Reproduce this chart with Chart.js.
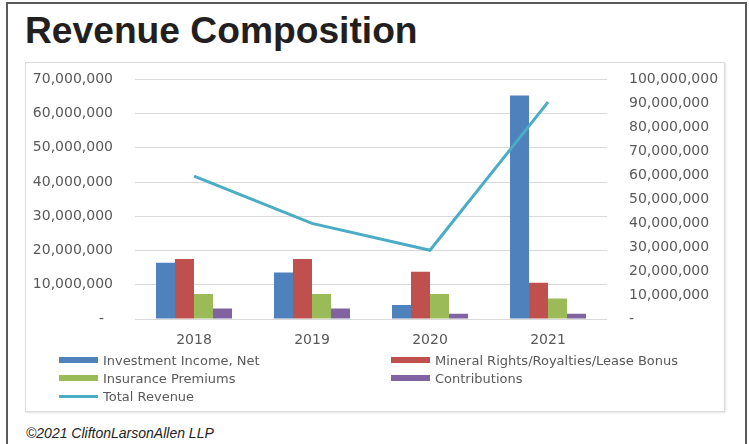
<!DOCTYPE html>
<html>
<head>
<meta charset="utf-8">
<script src="https://cdn.jsdelivr.net/npm/chart.js@4"></script>
<style>
  html, body { margin: 0; padding: 0; background: #fff; }
  body { width: 749px; height: 444px; position: relative; overflow: hidden; font-family: "Liberation Sans", Arial, sans-serif; }
  .frame { position: absolute; left: 6px; top: 2px; width: 741px; height: 470px; box-sizing: border-box; border: 2px solid #5a5a5a; }
  .title { position: absolute; left: 25px; top: 9px; font-size: 37.2px; font-weight: bold; color: #231f20; }
  .box { position: absolute; left: 25px; top: 62px; width: 700px; height: 350px; box-sizing: border-box; border: 1px solid #dcdcdc; box-shadow: 1px 1px 2px #e4e4e4; }
  #chart { position: absolute; left: 26px; top: 49px; }
  .legend { position: absolute; left: 59px; top: 351px; display: grid; grid-template-columns: 332px 300px; grid-auto-rows: 18px; }
  .legend div { display: flex; align-items: center; font-family: "DejaVu Sans", sans-serif; font-size: 13px; color: #595959; }
  .legend span.sw { display: inline-block; width: 39px; margin-right: 5px; }
  .footer { position: absolute; left: 26px; top: 425px; font-size: 14px; font-style: italic; color: #222; }
</style>
</head>
<body>
<div class="frame"></div>
<div class="title">Revenue Composition</div>
<div class="box"></div>
<canvas id="chart" width="698" height="304"></canvas>
<div class="legend" id="legend"></div>
<div class="footer">©2021 CliftonLarsonAllen LLP</div>
<script>
// values (left axis for bars, right axis for total)
const years = ['2018', '2019', '2020', '2021'];
const investmentIncome = [16400000, 13600000, 4100000, 65300000];
const mineralRights = [17500000, 17500000, 13800000, 10600000];
const insurancePremiums = [7300000, 7300000, 7300000, 6000000];
const contributions = [3100000, 3100000, 1500000, 1500000];
const totalRevenue = [59600000, 39900000, 28700000, 90500000];

const TICK_FONT = { family: 'DejaVu Sans', size: 14 };
const GREY = '#595959';

const fmt = (v) => v.toLocaleString('en-US');

function bar(label, data, color) {
  return { type: 'bar', label, data, backgroundColor: color, yAxisID: 'y', order: 1,
    barPercentage: 1, categoryPercentage: 0.644 };
}

const datasets = [
  bar('Investment Income, Net', investmentIncome, '#4F81BD'),
  bar('Mineral Rights/Royalties/Lease Bonus', mineralRights, '#C0504D'),
  bar('Insurance Premiums', insurancePremiums, '#9BBB59'),
  bar('Contributions', contributions, '#8064A2'),
  { type: 'line', label: 'Total Revenue', data: totalRevenue, yAxisID: 'y1', order: 0,
    borderColor: '#4BACC6', backgroundColor: '#4BACC6', borderWidth: 3, pointRadius: 0, tension: 0 },
];

new Chart(document.getElementById('chart'), {
  type: 'bar',
  data: { labels: years, datasets },
  options: {
    responsive: false, animation: false, devicePixelRatio: 1,
    layout: { padding: { top: 2, left: 0, right: 0, bottom: 0 } },
    plugins: { legend: { display: false }, tooltip: { enabled: false } },
    scales: {
      x: {
        grid: { display: false }, border: { display: false },
        ticks: { color: GREY, font: TICK_FONT, padding: 5 },
        afterFit: (s) => { s.height = 34; },
      },
      y: {
        position: 'left', min: 0, max: 70000000,
        grid: { color: '#d9d9d9', drawTicks: false }, border: { display: false },
        ticks: { stepSize: 10000000, color: GREY, font: TICK_FONT, padding: 22,
          callback: (v) => (v === 0 ? '-  ' : fmt(v)) },
        afterFit: (s) => { s.width = 109; },
      },
      y1: {
        position: 'right', min: 0, max: 100000000,
        grid: { drawOnChartArea: false, drawTicks: false }, border: { display: false },
        ticks: { stepSize: 10000000, color: GREY, font: TICK_FONT, padding: 22,
          callback: (v) => (v === 0 ? '-' : fmt(v)) },
        afterFit: (s) => { s.width = 117; },
      },
    },
  },
});

// html legend, two columns like the original
const legend = document.getElementById('legend');
datasets.forEach((d) => {
  const item = document.createElement('div');
  const sw = document.createElement('span');
  sw.className = 'sw';
  sw.style.height = d.type === 'line' ? '3px' : '6px';
  sw.style.background = d.type === 'line' ? d.borderColor : d.backgroundColor;
  item.appendChild(sw);
  item.appendChild(document.createTextNode(d.label));
  legend.appendChild(item);
});
</script>
</body>
</html>
